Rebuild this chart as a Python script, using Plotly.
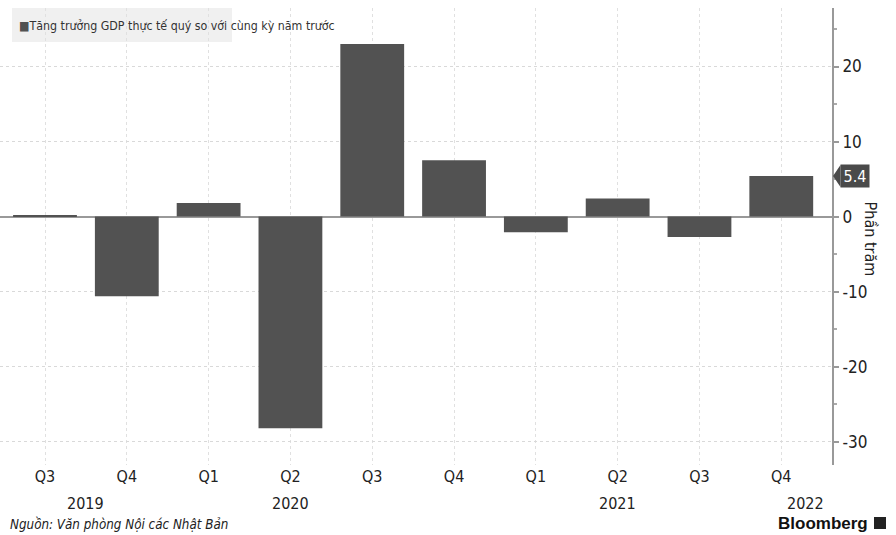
import plotly.graph_objects as go

quarters = ["Q3", "Q4", "Q1", "Q2", "Q3", "Q4", "Q1", "Q2", "Q3", "Q4"]
values = [0.2, -10.6, 1.8, -28.2, 23.0, 7.5, -2.1, 2.4, -2.7, 5.4]
years = ["2019", "2020", "2021", "2022"]
year_pos = [0.49, 3.0, 7.0, 9.3]
y_ticks = [-30, -20, -10, 0, 10, 20]
y_ticktext = ["-30", "-20", "-10", "0", "10", "20"]
series_name = "Tăng trưởng GDP thực tế quý so với cùng kỳ năm trước"
last_label = "5.4"

FONT = "Liberation Sans Narrow, DejaVu Sans Condensed, DejaVu Sans, sans-serif"
BAR = "#525252"
idx = list(range(len(values)))


def fnt(size, color="#222", **kw):
    return dict(size=size, color=color, family=FONT, **kw)


fig = go.Figure()
fig.add_trace(go.Bar(x=idx, y=values, marker=dict(color=BAR, line=dict(width=0)),
                     width=0.78, name=series_name, showlegend=False, hoverinfo="skip"))

W, H = 896, 535
ml, mr, mt, mb = 0, 64, 8, 70
pw = W - ml - mr
ph = H - mt - mb
px = 1.0 / pw

fig.update_layout(
    width=W, height=H,
    margin=dict(l=ml, r=mr, t=mt, b=mb),
    paper_bgcolor="white", plot_bgcolor="white",
    font=fnt(14),
    showlegend=False,
    xaxis=dict(range=[-0.55, 9.62], tickvals=idx, ticktext=quarters,
               tickfont=fnt(16), showgrid=True,
               gridcolor="#e0e0e0", griddash="dot", gridwidth=1,
               showline=False, zeroline=False, ticks=""),
    yaxis=dict(side="right", range=[-33.1, 27.8], tickvals=y_ticks, ticktext=y_ticktext,
               tickfont=fnt(17), showgrid=True, gridcolor="#d9d9d9",
               griddash="dot", showline=True, linecolor="#999", linewidth=2,
               ticks="outside", ticklen=5, tickcolor="#999", tickwidth=2,
               minor=dict(dtick=5, ticks="outside", ticklen=3, tickcolor="#aaa", showgrid=False),
               zeroline=True, zerolinecolor="#999", zerolinewidth=2),
)

# legend box + legend text
fig.add_shape(type="rect", xref="paper", yref="paper", x0=12 * px, x1=232 * px,
              y0=(H - mb - 42) / ph, y1=(H - mb - 8) / ph,
              fillcolor="#f0f0f0", line=dict(width=0), layer="below")
fig.add_annotation(x=17 * px, y=(H - mb - 26) / ph, xref="paper", yref="paper",
                   xanchor="left", yanchor="middle", showarrow=False,
                   text=f"<span style='color:{BAR}'>■</span>{series_name}",
                   font=fnt(12.3, "#333"))

# flag for last value: pointer triangle + label box
v = values[-1]
hh = 1.47
x_tip = 1 + 1 * px
x_b = 1 + 8.5 * px
fig.add_shape(type="path", xref="paper", yref="y",
              path=f"M {x_tip},{v} L {x_b},{v + hh} L {x_b},{v - hh} Z",
              fillcolor="#4a4a4a", line=dict(width=0))
fig.add_annotation(x=1 + 8 * px, y=v, xref="paper", yref="y", text=last_label,
                   xanchor="left", yanchor="middle", showarrow=False,
                   bgcolor="#4a4a4a", borderpad=2, height=18, width=24,
                   font=fnt(16, "white"))

# y axis title
fig.add_annotation(x=1 + 38 * px, y=0, xref="paper", yref="y", yshift=-22,
                   xanchor="center",
                   text="Phần trăm", textangle=90, showarrow=False,
                   font=fnt(16))

# years
for yt, xp in zip(years, year_pos):
    fig.add_annotation(x=xp, y=-38 / ph, xref="x", yref="paper", text=yt, showarrow=False,
                       font=fnt(16), yanchor="middle")

# source
fig.add_annotation(x=8 * px, y=-59 / ph, xref="paper", yref="paper", xanchor="left",
                   yanchor="middle", text="<i>Nguồn: Văn phòng Nội các Nhật Bản</i>",
                   showarrow=False, font=fnt(13.3))

# Bloomberg
fig.add_annotation(x=870 * px, y=-58 / ph, xref="paper", yref="paper", xanchor="right",
                   yanchor="middle", text="<b>Bloomberg</b>", showarrow=False,
                   font=dict(size=17, color="#111", family="Liberation Sans, Arial, sans-serif"))
fig.add_shape(type="rect", xref="paper", yref="paper", x0=874 * px, x1=886 * px,
              y0=-64 / ph, y1=-52 / ph, fillcolor="#222", line=dict(width=0))

fig.write_html("out.html", config={"displayModeBar": False},
               post_script="document.body.style.margin='0';document.body.style.padding='0';")
